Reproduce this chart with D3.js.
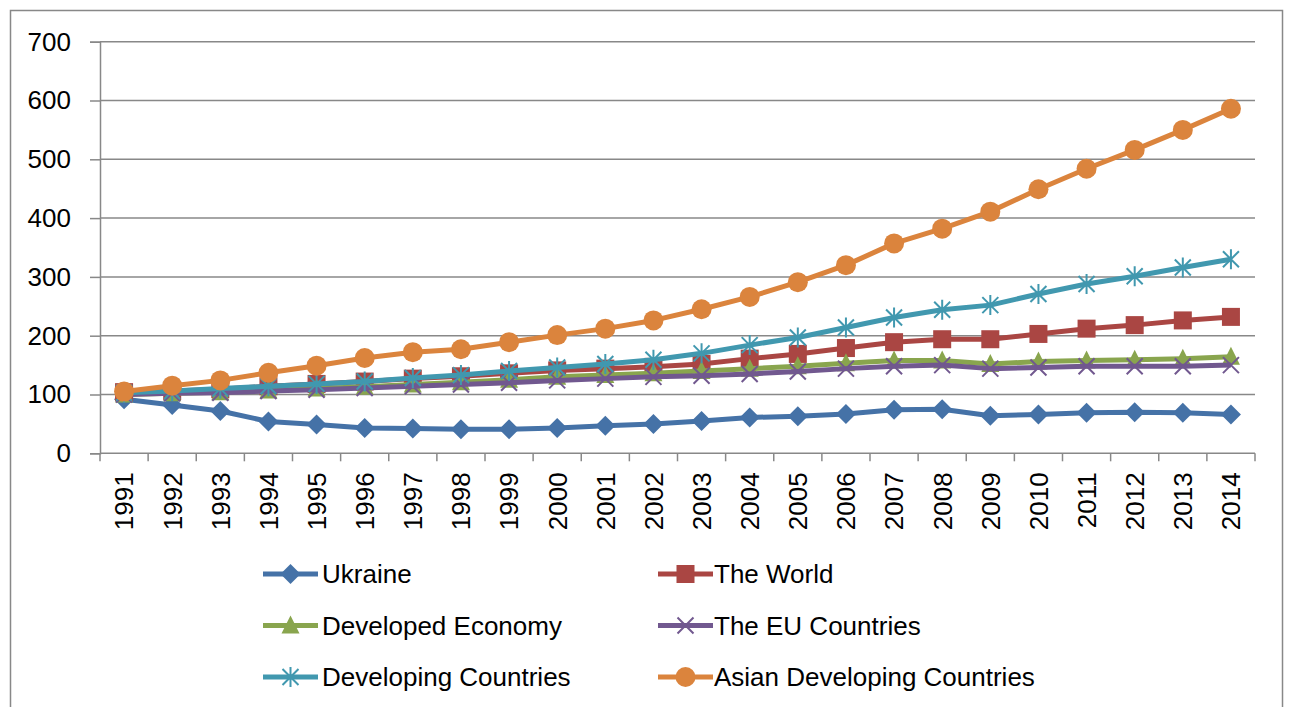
<!DOCTYPE html>
<html>
<head>
<meta charset="utf-8">
<script src="https://cdn.jsdelivr.net/npm/d3@7"></script>
<style>
  body { margin: 0; background: #fff; }
  text { font-family: "Liberation Sans", Arial, sans-serif; fill: #000; }
</style>
</head>
<body>
<div class="container"></div>
<script>
// chart data
var years = ["1991","1992","1993","1994","1995","1996","1997","1998","1999","2000","2001","2002",
             "2003","2004","2005","2006","2007","2008","2009","2010","2011","2012","2013","2014"];
var yTicks = [0, 100, 200, 300, 400, 500, 600, 700];

var ukraine    = [92, 82, 72, 54, 49, 43, 42, 41, 41, 43, 47, 50, 55, 61, 63, 67, 74, 75, 64, 66, 69, 70, 69, 66];
var world      = [104, 106, 109, 114, 118, 122, 127, 131, 136, 141, 144, 147, 152, 161, 169, 179, 189, 194, 194, 203, 212, 218, 226, 232];
var developed  = [100, 102, 104, 107, 110, 113, 117, 121, 125, 130, 133, 136, 140, 144, 148, 153, 158, 158, 152, 156, 158, 159, 161, 164];
var euCountries= [100, 102, 103, 106, 108, 111, 114, 117, 120, 124, 127, 130, 132, 135, 139, 144, 148, 150, 144, 146, 148, 148, 148, 150];
var developing = [103, 106, 110, 114, 118, 122, 128, 133, 140, 146, 152, 159, 170, 184, 197, 214, 231, 244, 252, 271, 288, 301, 316, 330];
var asian      = [105, 115, 124, 137, 149, 162, 172, 177, 189, 201, 212, 226, 245, 266, 291, 320, 357, 382, 411, 449, 484, 516, 550, 586];

var seriesNames = ["Ukraine", "The World", "Developed Economy", "The EU Countries", "Developing Countries", "Asian Developing Countries"];
var seriesValues = [ukraine, world, developed, euCountries, developing, asian];
var seriesColors = ["#4572A7", "#AA4643", "#89A54E", "#71588F", "#4198AF", "#DB843D"];
var seriesMarkers = ["diamond", "square", "triangle", "x", "star", "circle"];

var svgWidth = 1291;
var svgHeight = 707;
var margin = { top: 41.7, right: 36, bottom: 253.7, left: 100 };
var width = svgWidth - margin.left - margin.right;
var height = svgHeight - margin.top - margin.bottom;

var svg = d3.select(".container").append("svg")
  .attr("width", svgWidth)
  .attr("height", svgHeight);

// outer chart frame
svg.append("rect")
  .attr("x", 10.5).attr("y", 10.5)
  .attr("width", 1272).attr("height", 720)
  .attr("fill", "none").attr("stroke", "#888").attr("stroke-width", 1.5);

var chartGroup = svg.append("g")
  .attr("transform", `translate(${margin.left}, ${margin.top})`);

var x = d3.scaleBand().domain(years).range([0, width]).padding(0);
var y = d3.scaleLinear().domain([0, 700]).range([height, 0]);

// gridlines + y axis
var leftAxis = d3.axisLeft(y).tickValues(yTicks).tickSize(10).tickPadding(19);
var yAxis = chartGroup.append("g").call(leftAxis);
yAxis.select(".domain").attr("stroke", "#888").attr("stroke-width", 1.5);
yAxis.selectAll(".tick line").attr("stroke", "#888").attr("stroke-width", 1.5);
yAxis.selectAll(".tick text").style("font-size", "26px")
  .style("font-family", "Liberation Sans, Arial, sans-serif").attr("fill", "#000");

chartGroup.append("g").selectAll("line")
  .data(yTicks)
  .enter().append("line")
  .attr("x1", 0).attr("x2", width)
  .attr("y1", d => y(d)).attr("y2", d => y(d))
  .attr("stroke", "#888").attr("stroke-width", 1.5);

// x axis: ticks between categories
var bottomAxis = d3.axisBottom(x).tickSize(0).tickPadding(0);
var xAxis = chartGroup.append("g")
  .attr("transform", `translate(0, ${height})`)
  .call(bottomAxis);
xAxis.select(".domain").remove();
xAxis.selectAll(".tick text")
  .style("font-size", "26px")
  .style("font-family", "Liberation Sans, Arial, sans-serif")
  .attr("fill", "#000")
  .attr("text-anchor", "end")
  .attr("transform", "rotate(-90)")
  .attr("x", -19)
  .attr("y", 0)
  .attr("dy", "0.36em");

var boundaries = years.map(d => x(d)).concat([x.range()[1]]);
xAxis.append("g").selectAll("line")
  .data(boundaries)
  .enter().append("line")
  .attr("x1", d => d).attr("x2", d => d)
  .attr("y1", 0).attr("y2", 8)
  .attr("stroke", "#888").attr("stroke-width", 1.5);

// marker drawing
function drawMarker(g, type, color) {
  if (type === "diamond") {
    g.append("path").attr("d", "M0,-10L10,0L0,10L-10,0Z").attr("fill", color);
  } else if (type === "square") {
    g.append("rect").attr("x", -9).attr("y", -9).attr("width", 18).attr("height", 18).attr("fill", color);
  } else if (type === "triangle") {
    g.append("path").attr("d", "M0,-10L9,8L-9,8Z").attr("fill", color);
  } else if (type === "circle") {
    g.append("circle").attr("r", 10).attr("fill", color);
  } else if (type === "x") {
    g.append("path").attr("d", "M-8,-8L8,8M-8,8L8,-8")
      .attr("stroke", color).attr("stroke-width", 2).attr("fill", "none");
  } else if (type === "star") {
    g.append("path").attr("d", "M-8,-8L8,8M-8,8L8,-8M0,-10L0,10")
      .attr("stroke", color).attr("stroke-width", 2).attr("fill", "none");
  }
}

var line = d3.line()
  .x((d, i) => x(years[i]) + x.bandwidth() / 2)
  .y(d => y(d));

seriesValues.forEach(function(vals, s) {
  var sg = chartGroup.append("g");
  sg.append("path")
    .datum(vals)
    .attr("d", line)
    .attr("fill", "none")
    .attr("stroke", seriesColors[s])
    .attr("stroke-width", 5)
    .attr("stroke-linejoin", "round");
  sg.selectAll("g.marker")
    .data(vals)
    .enter().append("g")
    .attr("class", "marker")
    .attr("transform", (d, i) => `translate(${x(years[i]) + x.bandwidth() / 2}, ${y(d)})`)
    .each(function() { drawMarker(d3.select(this), seriesMarkers[s], seriesColors[s]); });
});

// legend
var legendGroup = svg.append("g");
var legendCols = [263, 658];
var legendRows = [574, 625.5, 677];
seriesNames.forEach(function(name, i) {
  var lx = legendCols[i % 2];
  var ly = legendRows[Math.floor(i / 2)];
  var item = legendGroup.append("g").attr("transform", `translate(${lx}, ${ly})`);
  item.append("line")
    .attr("x1", 0).attr("x2", 55)
    .attr("y1", 0).attr("y2", 0)
    .attr("stroke", seriesColors[i]).attr("stroke-width", 5);
  var m = item.append("g").attr("transform", "translate(27.5, 0)");
  drawMarker(m, seriesMarkers[i], seriesColors[i]);
  item.append("text")
    .attr("x", i % 2 === 0 ? 59 : 56).attr("y", 0).attr("dy", "0.36em")
    .style("font-size", "26px")
    .text(name);
});
</script>
</body>
</html>
